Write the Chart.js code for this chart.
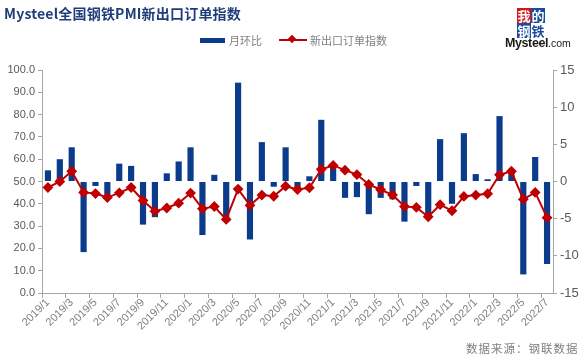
<!DOCTYPE html>
<html><head><meta charset="utf-8">
<script src="https://cdn.jsdelivr.net/npm/chart.js@4/dist/chart.umd.min.js"></script>
<style>
html,body{margin:0;padding:0;background:#fff;}
#wrap{position:relative;width:586px;height:361px;overflow:hidden;font-family:"Noto Sans CJK SC","DejaVu Sans",sans-serif;}
#c{position:absolute;left:0;top:0;}
#title{position:absolute;left:4px;top:3px;font-size:14px;font-weight:bold;color:#1F3D7A;white-space:nowrap;letter-spacing:0.2px;}
#legend{position:absolute;left:200px;top:33px;font-size:11px;color:#7f7f7f;white-space:nowrap;}
.li{position:absolute;top:0;height:14px;line-height:14px;}
#src{position:absolute;left:466px;top:340px;font-size:11.5px;color:#7f7f7f;white-space:nowrap;letter-spacing:1px;}
#logo{position:absolute;left:517px;top:8px;}
.lb{position:absolute;width:14px;height:15px;font-size:13px;line-height:15px;text-align:center;font-weight:bold;font-family:"Noto Sans CJK SC",serif;}
#ms{position:absolute;left:505px;top:36px;font-family:"Liberation Sans",Arial,sans-serif;font-weight:bold;font-size:12.5px;color:#1a1a1a;white-space:nowrap;letter-spacing:-0.4px;}
#ms span{font-size:10.5px;font-weight:normal;letter-spacing:0;}
</style></head>
<body><div id="wrap">
<canvas id="c" width="586" height="361"></canvas>
<div id="title">Mysteel全国钢铁PMI新出口订单指数</div>
<div id="legend">
  <div class="li" style="left:0;width:25px;"><div style="position:absolute;top:5px;left:0;width:25px;height:5px;background:#0B3C8C;"></div></div>
  <div class="li" style="left:29px;">月环比</div>
  <div class="li" style="left:79px;width:28px;"><div style="position:absolute;top:6px;left:0;width:28px;height:2px;background:#C00000;"></div><div style="position:absolute;top:3px;left:10px;width:6px;height:6px;background:#C00000;transform:rotate(45deg);"></div></div>
  <div class="li" style="left:110px;">新出口订单指数</div>
</div>
<div id="logo">
  <div class="lb" style="left:0;top:0;background:#D7141A;color:#fff;">我</div>
  <div class="lb" style="left:14px;top:0;background:#1B4B9B;color:#fff;">的</div>
  <div class="lb" style="left:0;top:15px;background:#1B4B9B;color:#fff;">钢</div>
  <div class="lb" style="left:14px;top:15px;background:#fff;color:#1B4B9B;">铁</div>
</div>
<div id="ms">Mysteel<span>.com</span></div>
<div id="src">数据来源：钢联数据</div>
</div>
<script>
const categories = ["2019/1","2019/2","2019/3","2019/4","2019/5","2019/6","2019/7","2019/8","2019/9","2019/10","2019/11","2019/12",
"2020/1","2020/2","2020/3","2020/4","2020/5","2020/6","2020/7","2020/8","2020/9","2020/10","2020/11","2020/12",
"2021/1","2021/2","2021/3","2021/4","2021/5","2021/6","2021/7","2021/8","2021/9","2021/10","2021/11","2021/12",
"2022/1","2022/2","2022/3","2022/4","2022/5","2022/6","2022/7"];
const momChange = [1.5,3.0,4.6,-9.5,-0.6,-2.1,2.4,2.1,-5.8,-4.8,1.1,2.7,
4.6,-7.2,0.9,-4.8,13.3,-7.8,5.3,-0.7,4.6,-0.9,0.7,8.3,
1.9,-2.2,-2.1,-4.4,-2.2,-2.4,-5.4,-0.6,-4.8,5.7,-3.0,6.5,
1.0,0.3,8.8,1.2,-12.5,3.3,-11.1];
const exportIndex = [47.3,50.0,54.6,45.1,44.6,42.8,44.9,47.3,41.5,36.7,38.1,40.3,
44.8,37.8,38.8,33.0,46.6,39.3,43.9,43.4,47.9,46.4,47.2,55.5,
57.2,55.1,53.1,48.7,46.3,44.0,38.8,38.4,34.2,39.6,36.9,43.3,
43.9,44.5,53.0,54.6,42.0,45.1,33.8];
const leftTicks = [0,10,20,30,40,50,60,70,80,90,100];
const rightTicks = [-15,-10,-5,0,5,10,15];

const axisGrey = '#A6A6A6';
const labelGrey = '#595959';

new Chart(document.getElementById('c'), {
  data: {
    labels: categories,
    datasets: [
      {type:'line', label:'新出口订单指数', data: exportIndex, yAxisID:'y',
       borderColor:'#C00000', backgroundColor:'#C00000', borderWidth:2,
       pointStyle:'rectRot', pointRadius:4, pointHoverRadius:4, tension:0, order:0},
      {type:'bar', label:'月环比', data: momChange, yAxisID:'y1',
       backgroundColor:'#0B3C8C', barPercentage:0.52, categoryPercentage:1, order:1}
    ]
  },
  options: {
    responsive:false, animation:false,
    layout:{padding:{top:70,left:0,right:0,bottom:0}},
    plugins:{legend:{display:false}, tooltip:{enabled:false}},
    scales:{
      x:{
        offset:true,
        grid:{offset:true, drawOnChartArea:false, drawTicks:true, tickLength:5,
              color:(ctx)=> (ctx.index % 2 === 0 ? axisGrey : 'rgba(0,0,0,0)')},
        border:{display:true, color:axisGrey},
        ticks:{autoSkip:false, maxRotation:45, minRotation:45, padding:-2,
               color:'#808080', font:{family:'Liberation Sans', size:11},
               callback:function(v,i){ return i % 2 === 0 ? categories[i] : ''; }},
        afterFit:(s)=>{ s.height = 68; }
      },
      y:{
        position:'left', min:0, max:100,
        afterBuildTicks:(s)=>{ s.ticks = leftTicks.map(v=>({value:v})); },
        grid:{drawOnChartArea:false, drawTicks:true, tickLength:4, color:axisGrey},
        border:{display:true, color:axisGrey},
        ticks:{color:labelGrey, font:{family:'Liberation Sans', size:11}, padding:3,
               callback:(v)=>Number(v).toFixed(1)},
        afterFit:(s)=>{ s.width = 42; }
      },
      y1:{
        position:'right', min:-15, max:15,
        afterBuildTicks:(s)=>{ s.ticks = rightTicks.map(v=>({value:v})); },
        grid:{drawOnChartArea:false, drawTicks:true, tickLength:4, color:axisGrey},
        border:{display:true, color:axisGrey},
        ticks:{color:labelGrey, font:{family:'Liberation Sans', size:13}, padding:3},
        afterFit:(s)=>{ s.width = 33; }
      }
    }
  }
});
</script>
</body></html>
